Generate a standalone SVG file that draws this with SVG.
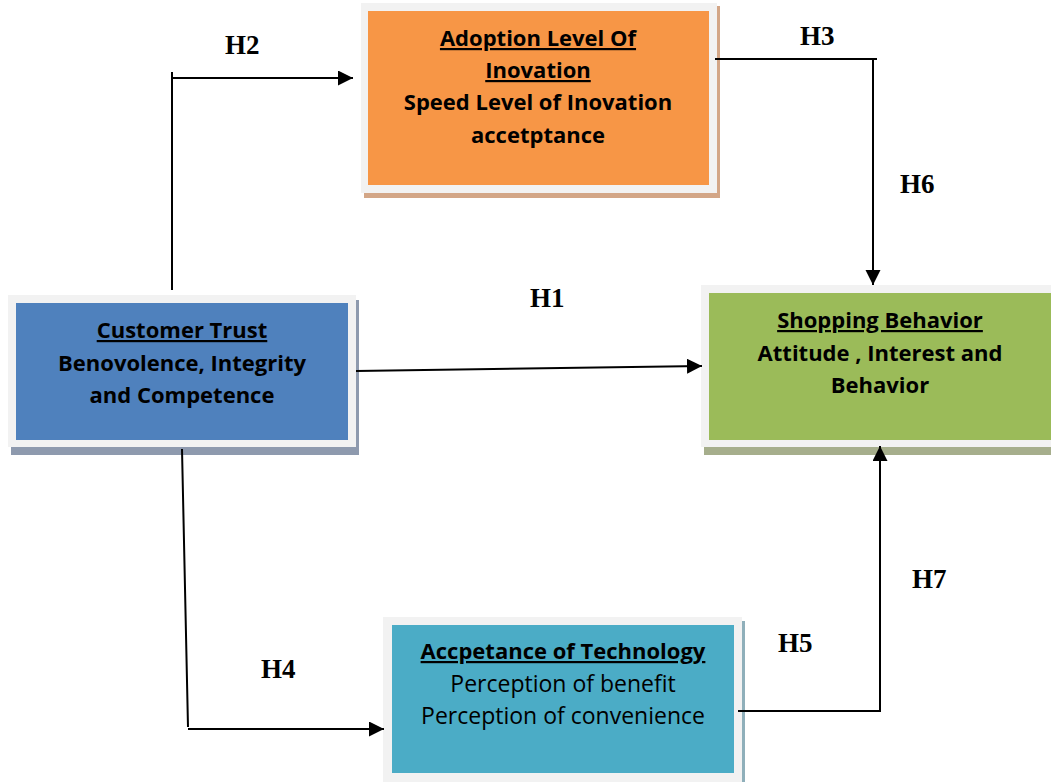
<svg xmlns="http://www.w3.org/2000/svg" width="1051" height="782" viewBox="0 0 1051 782">
<style>
.frame{fill:#F2F2F2}
.t{font-family:"Open Sans",Lato,sans-serif;font-size:23px;fill:#000;text-anchor:middle}
.b{font-weight:bold;font-size:22px}
.u{text-decoration:underline}
.h{font-family:"Liberation Serif","Times New Roman",serif;font-weight:bold;font-size:27px;fill:#000}
.c{fill:none;stroke:#000;stroke-width:2}
</style>
<defs>
<marker id="arr" markerUnits="userSpaceOnUse" markerWidth="16" markerHeight="16" refX="15" refY="7.5" orient="auto">
<path d="M0,0 L15,7.5 L0,15 z" fill="#000"/>
</marker>
</defs>
<rect width="1051" height="782" fill="#fff"/>
<g id="adoption">
<rect x="364" y="6" width="356" height="192" fill="#D3A687"/>
<rect class="frame" x="361" y="3" width="356" height="190"/>
<rect x="368" y="11" width="341" height="174" fill="#F79646"/>
<text class="t b" x="538" y="46"><tspan class="u">Adoption Level Of</tspan></text>
<text class="t b" x="538" y="78"><tspan class="u">Inovation</tspan></text>
<text class="t b" x="538" y="110">Speed Level of Inovation</text>
<text class="t b" x="538" y="143">accetptance</text>
</g>
<g id="trust">
<rect x="11" y="300" width="348" height="155" fill="#8E9AAE"/>
<rect class="frame" x="8" y="295" width="348" height="152"/>
<rect x="16" y="303" width="332" height="137" fill="#4F81BD"/>
<text class="t b" x="182" y="338"><tspan class="u">Customer Trust</tspan></text>
<text class="t b" x="182" y="371">Benovolence, Integrity</text>
<text class="t b" x="182" y="403">and Competence</text>
</g>
<g id="shopping">
<rect x="704" y="290" width="350" height="165" fill="#A6AE8C"/>
<rect class="frame" x="701" y="285" width="352" height="162"/>
<rect x="709" y="293" width="344" height="147" fill="#9BBB59"/>
<text class="t b" x="880" y="328"><tspan class="u">Shopping Behavior</tspan></text>
<text class="t b" x="880" y="361">Attitude , Interest and</text>
<text class="t b" x="880" y="393">Behavior</text>
</g>
<g id="technology">
<rect x="386" y="621" width="359" height="165" fill="#8FAFBA"/>
<rect class="frame" x="383" y="617" width="359" height="168"/>
<rect x="392" y="625" width="342" height="148" fill="#4BACC6"/>
<text class="t b" x="563" y="659"><tspan class="u">Accpetance of Technology</tspan></text>
<text class="t" x="563" y="692">Perception of benefit</text>
<text class="t" x="563" y="724">Perception of convenience</text>
</g>
<g id="connectors">
<path class="c" d="M172,290 L172,72 M172,78 L353,78" marker-end="url(#arr)"/>
<path class="c" d="M715,59 L877,59 M873,59 L873,285" marker-end="url(#arr)"/>
<path class="c" d="M356,371 L702,366" marker-end="url(#arr)"/>
<path class="c" d="M182,449 L188,727 M188,729 L384,729" marker-end="url(#arr)"/>
<path class="c" d="M738,711 L880,711 L880,446" marker-end="url(#arr)"/>
</g>
<g id="labels">
<text class="h" x="225" y="54">H2</text>
<text class="h" x="800" y="45">H3</text>
<text class="h" x="900" y="193">H6</text>
<text class="h" x="530" y="307">H1</text>
<text class="h" x="261" y="678">H4</text>
<text class="h" x="778" y="652">H5</text>
<text class="h" x="912" y="588">H7</text>
</g>
</svg>
